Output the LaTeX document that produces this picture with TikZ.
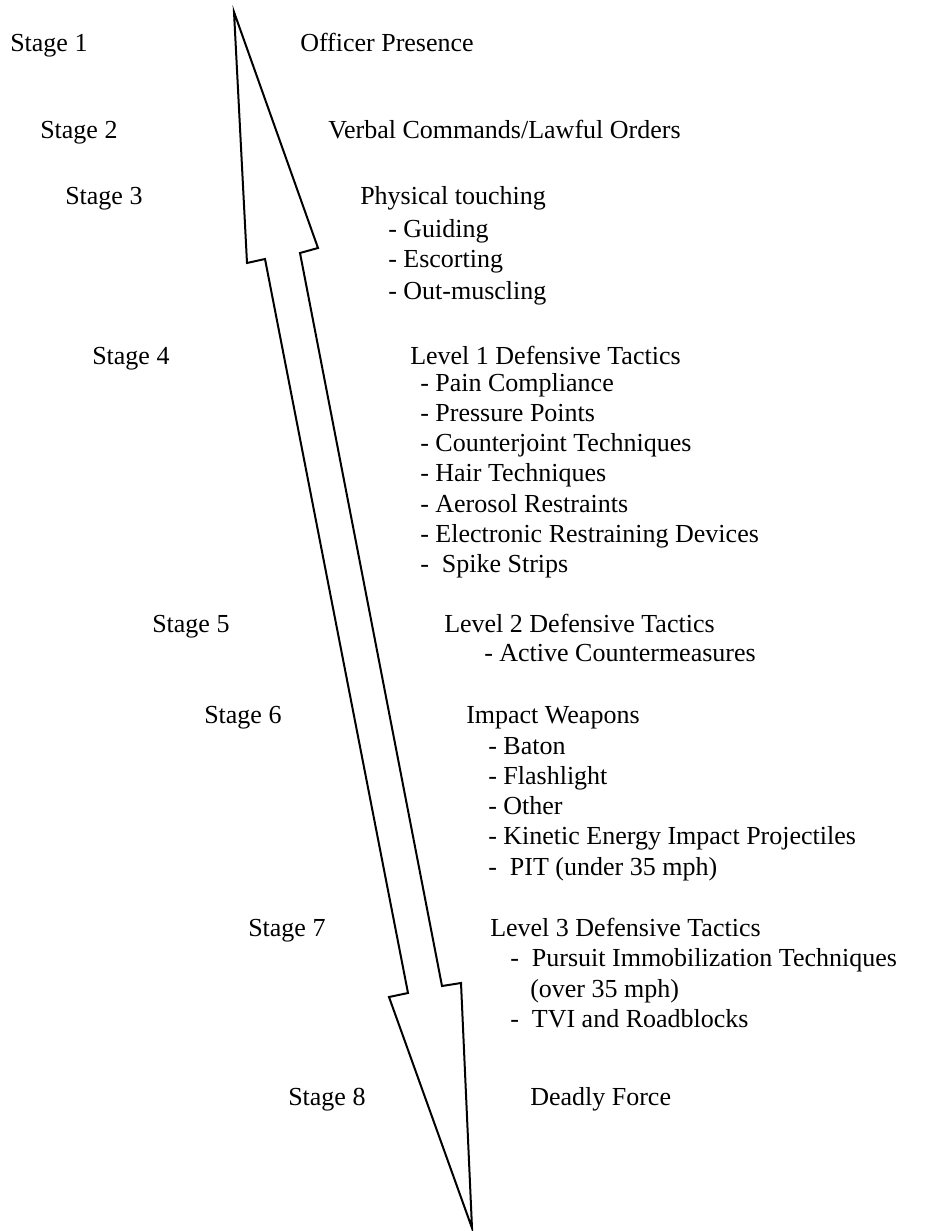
\documentclass[tikz,border=0pt]{standalone}
\usepackage{fontspec}
\setmainfont{Liberation Serif}

\begin{document}
\begin{tikzpicture}[
  x=0.75pt, y=-0.75pt,
  font=\fontsize{19.5}{22}\selectfont,
  lbl/.style={anchor=base west, inner sep=0pt},
  stage/.style={lbl},
  level/.style={lbl},
  item/.style={lbl},
  bigarrow/.style={draw, line width=1.5pt, line join=miter, fill=white},
]
  \useasboundingbox (0,0) rectangle (947,1231);

  % ----- Double arrow -----
  \coordinate (top) at (234,12);
  \coordinate (bot) at (472,1228);
  \draw[bigarrow] (top) -- (318,248) -- (300,253) -- (442,986) -- (461,983)
    -- (bot) -- (389,997) -- (408,993) -- (265,259) -- (247,263) -- cycle;

  % ----- Stages (left) -----
  \node[stage] (s1) at (10,52)   {Stage 1};
  \node[stage] (s2) at (40,138)  {Stage 2};
  \node[stage] (s3) at (65,204)  {Stage 3};
  \node[stage] (s4) at (92,364)  {Stage 4};
  \node[stage] (s5) at (152,632) {Stage 5};
  \node[stage] (s6) at (204,723) {Stage 6};
  \node[stage] (s7) at (248,936) {Stage 7};
  \node[stage] (s8) at (288,1105) {Stage 8};

  % ----- Responses (right) -----
  \node[level] (r1) at (300,52)  {Officer Presence};
  \node[level] (r2) at (328,138) {Verbal Commands/Lawful Orders};

  \node[level] (r3) at (360,204) {Physical touching};
  \node[item] (r3a) at (388,237) {- Guiding};
  \node[item] (r3b) at (388,267) {- Escorting};
  \node[item] (r3c) at (388,299) {- Out-muscling};

  \node[level] (r4) at (410,364) {Level 1 Defensive Tactics};
  \node[item] (r4a) at (420,391) {- Pain Compliance};
  \node[item] (r4b) at (420,421) {- Pressure Points};
  \node[item] (r4c) at (420,451) {- Counterjoint Techniques};
  \node[item] (r4d) at (420,481) {- Hair Techniques};
  \node[item] (r4e) at (420,512) {- Aerosol Restraints};
  \node[item] (r4f) at (420,542) {- Electronic Restraining Devices};
  \node[item] (r4g) at (420,572) {-~~Spike Strips};

  \node[level] (r5) at (444,632) {Level 2 Defensive Tactics};
  \node[item] (r5a) at (484,661) {- Active Countermeasures};

  \node[level] (r6) at (466,723) {Impact Weapons};
  \node[item] (r6a) at (488,754) {- Baton};
  \node[item] (r6b) at (488,784) {- Flashlight};
  \node[item] (r6c) at (488,814) {- Other};
  \node[item] (r6d) at (488,844) {- Kinetic Energy Impact Projectiles};
  \node[item] (r6e) at (488,875) {-~~PIT (under 35 mph)};

  \node[level] (r7) at (490,936) {Level 3 Defensive Tactics};
  \node[item] (r7a) at (510,966) {-~~Pursuit Immobilization Techniques};
  \node[item] (r7b) at (530,997) {(over 35 mph)};
  \node[item] (r7c) at (510,1027) {-~~TVI and Roadblocks};

  \node[level] (r8) at (530,1105) {Deadly Force};
\end{tikzpicture}
\end{document}
